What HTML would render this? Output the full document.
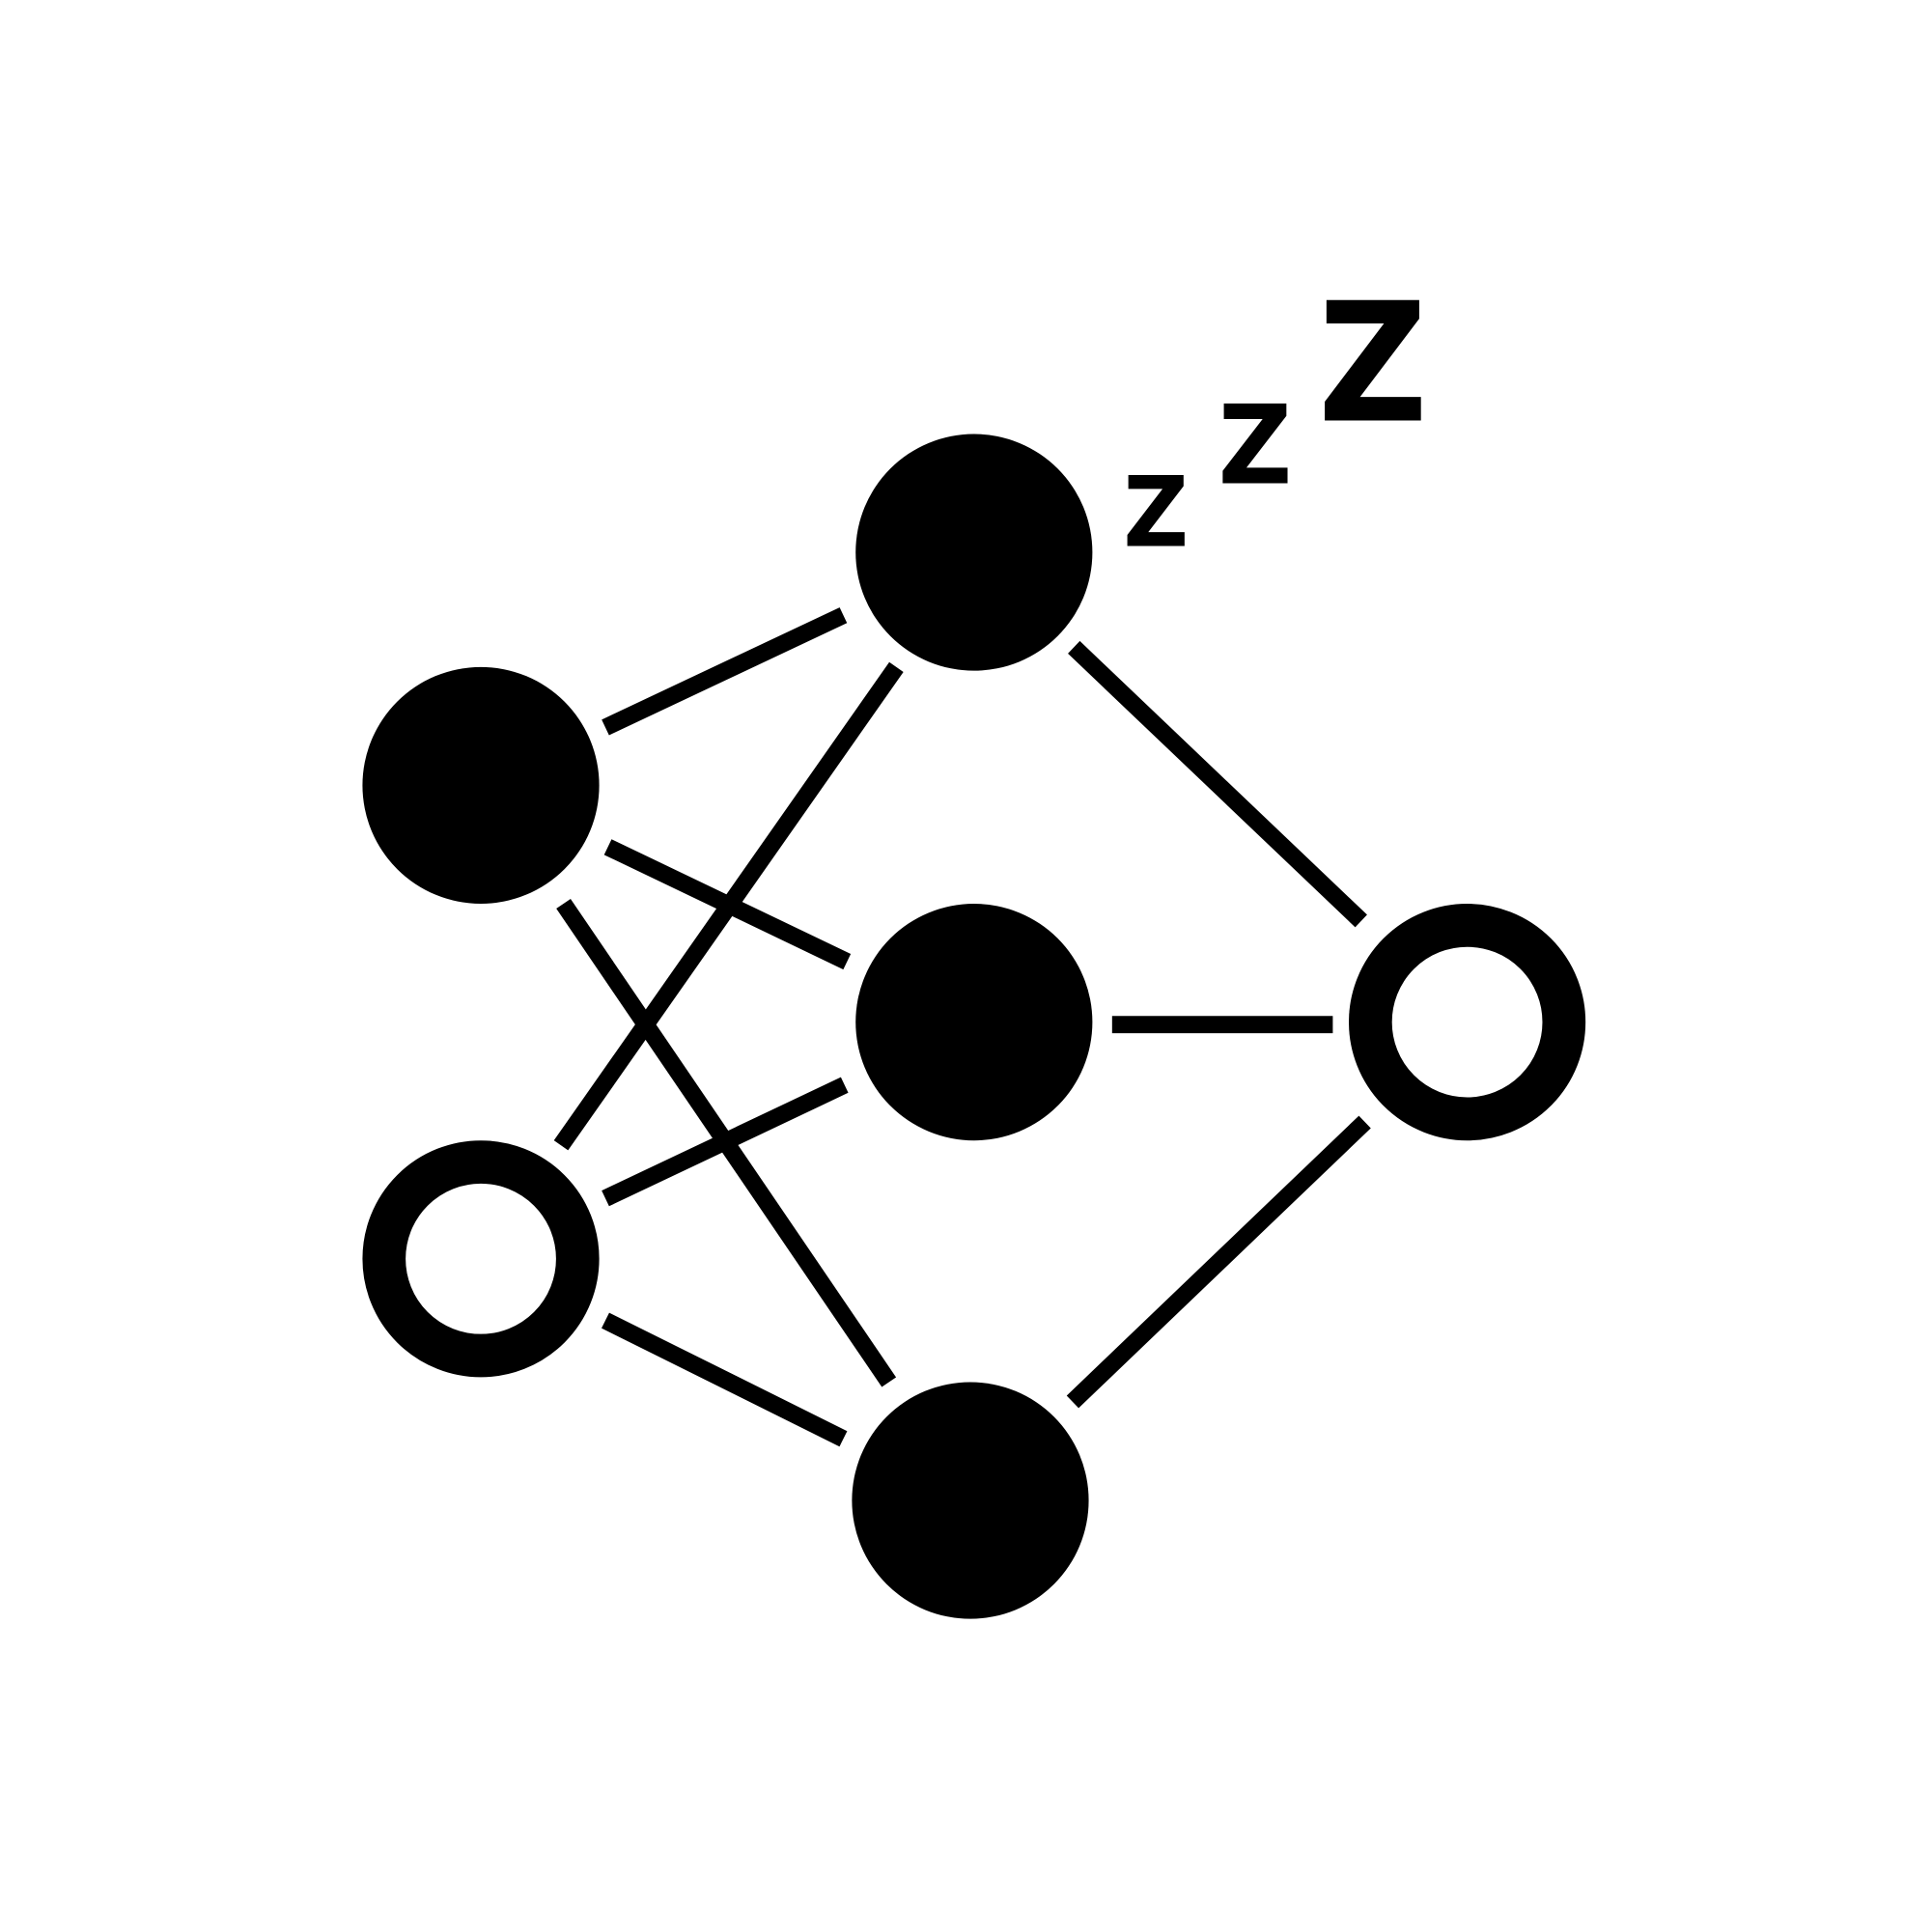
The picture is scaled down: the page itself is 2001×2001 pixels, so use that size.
<!DOCTYPE html>
<html><head><meta charset="utf-8"><style>html,body{margin:0;padding:0;background:#fff}svg{display:block}
.z{font-family:"DejaVu Sans","Liberation Sans",sans-serif;font-weight:bold;fill:#000}</style></head>
<body>
<svg width="2001" height="2001" viewBox="0 0 1567 1567" xmlns="http://www.w3.org/2000/svg">
<rect width="1567" height="1567" fill="#fff"/>
<g stroke="#000" stroke-width="14" fill="none">
<line x1="491" y1="590" x2="684" y2="499"/>
<line x1="493" y1="687" x2="687" y2="780"/>
<line x1="457" y1="733" x2="721" y2="1121"/>
<line x1="455" y1="929" x2="727" y2="541"/>
<line x1="491" y1="972" x2="685" y2="880"/>
<line x1="491" y1="1071" x2="684" y2="1167"/>
<line x1="871" y1="525" x2="1104" y2="747"/>
<line x1="902" y1="831" x2="1081" y2="831"/>
<line x1="1107" y1="910" x2="870" y2="1137"/>
</g>
<g>
<circle cx="790" cy="448" r="96" fill="#000"/>
<circle cx="390" cy="637" r="96" fill="#000"/>
<circle cx="790" cy="829" r="96" fill="#000"/>
<circle cx="787" cy="1217" r="96" fill="#000"/>
<circle cx="1190" cy="829" r="78.5" fill="#fff" stroke="#000" stroke-width="35"/>
<circle cx="390" cy="1021" r="78.5" fill="#fff" stroke="#000" stroke-width="35"/>
</g>
<g>
<text class="z" x="911" y="443" font-size="79" textLength="53" lengthAdjust="spacingAndGlyphs">Z</text>
<text class="z" x="988" y="392" font-size="89" textLength="60" lengthAdjust="spacingAndGlyphs">Z</text>
<text class="z" x="1069" y="341" font-size="134" textLength="89" lengthAdjust="spacingAndGlyphs">Z</text>
</g>
</svg>
</body></html>
